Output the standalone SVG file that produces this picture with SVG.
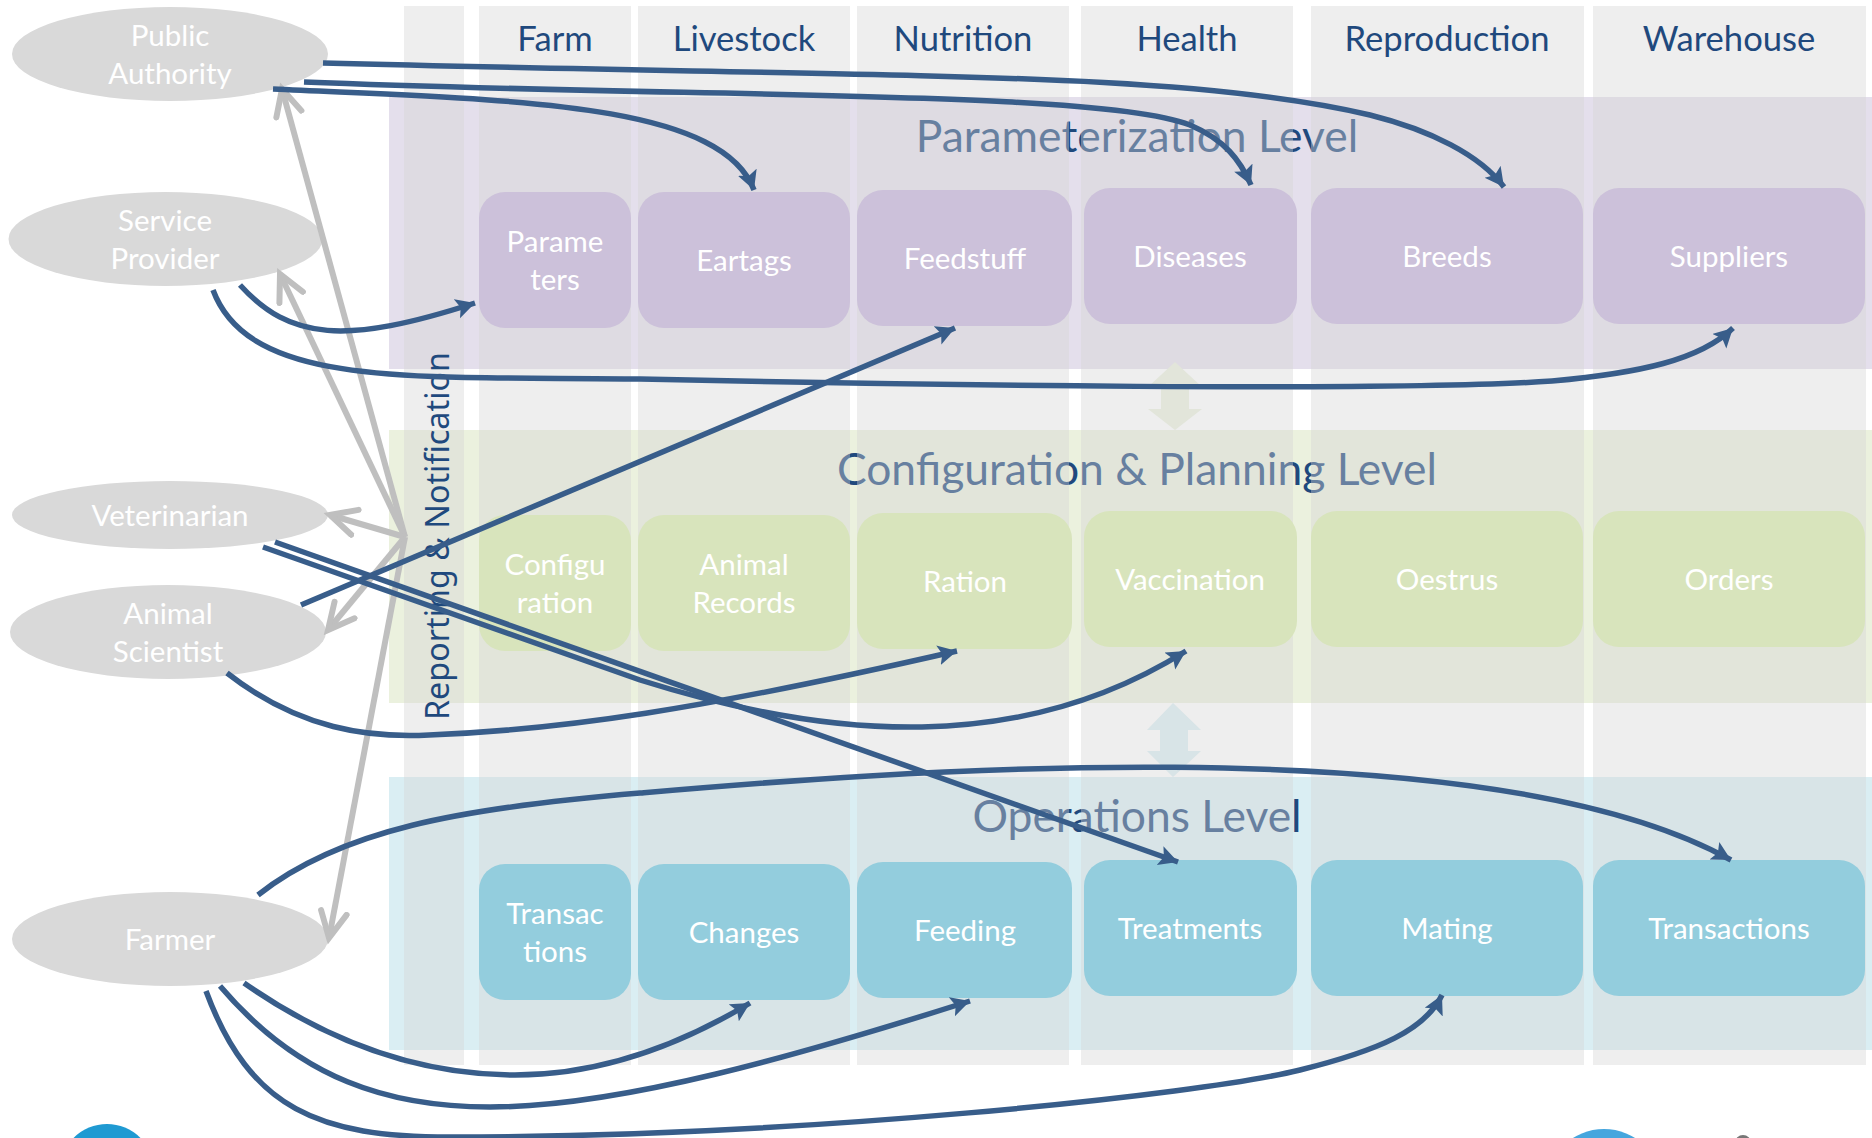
<svg xmlns="http://www.w3.org/2000/svg" width="1872" height="1138" viewBox="0 0 1872 1138">
<style>
text{font-family:"Lato","Liberation Sans",sans-serif;text-anchor:middle}
.col{fill:#d4d4d4;fill-opacity:.4}
.hd{font-size:34.6px;fill:#1f497d}
.lvl{font-size:44.4px;fill:#1f497d}
.n{font-size:29.5px;fill:#fff}
.act{fill:#d9d9d9}
.p{fill:#ccc1da}.g{fill:#d8e4bc}.b{fill:#93cddd}
.c{fill:none;stroke:#385d8a;stroke-width:5.5}
.r{fill:none;stroke:#bfbfbf;stroke-width:6}
</style>
<defs>
<marker id="ah" markerUnits="userSpaceOnUse" markerWidth="26" markerHeight="26" refX="19" refY="10" orient="auto"><path d="M0 0L19 10L0 20L4 10Z" fill="#385d8a"/></marker>
<marker id="oh" markerUnits="userSpaceOnUse" markerWidth="36" markerHeight="36" refX="29" refY="16" orient="auto"><path d="M3 3L29 16L3 29" fill="none" stroke="#bfbfbf" stroke-width="6" stroke-linecap="round"/></marker>
</defs>
<rect width="1872" height="1138" fill="#fff"/>
<g id="bands">
<rect x="389" y="97" width="1483" height="272" fill="#e4dfec"/>
<rect x="389" y="430" width="1483" height="273" fill="#ebf1de"/>
<rect x="389" y="777" width="1483" height="273" fill="#daeef3"/>
<path d="M1175 362L1202 387H1189V409H1202L1175 430L1148 409H1161V387H1148Z" fill="#ebf1de"/>
<path d="M1173 703L1201 730H1188V751H1201L1173 777L1147 751H1160V730H1147Z" fill="#daeef3"/>
<text class="lvl" x="1137" y="152">Parameterization Level</text>
<text class="lvl" x="1137" y="485">Configuration &amp; Planning Level</text>
<text class="lvl" x="1137" y="832">Operations Level</text>
</g>
<g id="columns">
<rect class="col" x="404" y="6" width="60" height="1059"/>
<rect class="col" x="479" y="6" width="152" height="1059"/>
<rect class="col" x="638" y="6" width="212" height="1059"/>
<rect class="col" x="857" y="6" width="212" height="1059"/>
<rect class="col" x="1081" y="6" width="212" height="1059"/>
<rect class="col" x="1311" y="6" width="273" height="1059"/>
<rect class="col" x="1593" y="6" width="273" height="1059"/>
<text class="hd" x="555" y="51">Farm</text>
<text class="hd" x="744" y="51">Livestock</text>
<text class="hd" x="963" y="51">Nutrition</text>
<text class="hd" x="1187" y="51">Health</text>
<text class="hd" x="1447" y="51">Reproduction</text>
<text class="hd" x="1729" y="51">Warehouse</text>
</g>
<g id="node-parameters"><rect class="p" x="479" y="192" width="152" height="136" rx="26"/><text class="n" x="555" y="252">Parame</text><text class="n" x="555" y="290">ters</text></g>
<g id="node-eartags"><rect class="p" x="638" y="192" width="212" height="136" rx="26"/><text class="n" x="744" y="271">Eartags</text></g>
<g id="node-feedstuff"><rect class="p" x="857" y="190" width="215" height="136" rx="26"/><text class="n" x="965" y="269">Feedstuff</text></g>
<g id="node-diseases"><rect class="p" x="1084" y="188" width="213" height="136" rx="26"/><text class="n" x="1190" y="267">Diseases</text></g>
<g id="node-breeds"><rect class="p" x="1311" y="188" width="272" height="136" rx="26"/><text class="n" x="1447" y="267">Breeds</text></g>
<g id="node-suppliers"><rect class="p" x="1593" y="188" width="272" height="136" rx="26"/><text class="n" x="1729" y="267">Suppliers</text></g>
<g id="node-configuration"><rect class="g" x="479" y="515" width="152" height="136" rx="26"/><text class="n" x="555" y="575">Configu</text><text class="n" x="555" y="613">ration</text></g>
<g id="node-records"><rect class="g" x="638" y="515" width="212" height="136" rx="26"/><text class="n" x="744" y="575">Animal</text><text class="n" x="744" y="613">Records</text></g>
<g id="node-ration"><rect class="g" x="857" y="513" width="215" height="136" rx="26"/><text class="n" x="965" y="592">Ration</text></g>
<g id="node-vaccination"><rect class="g" x="1084" y="511" width="213" height="136" rx="26"/><text class="n" x="1190" y="590">Vaccination</text></g>
<g id="node-oestrus"><rect class="g" x="1311" y="511" width="272" height="136" rx="26"/><text class="n" x="1447" y="590">Oestrus</text></g>
<g id="node-orders"><rect class="g" x="1593" y="511" width="272" height="136" rx="26"/><text class="n" x="1729" y="590">Orders</text></g>
<g id="node-transactions-farm"><rect class="b" x="479" y="864" width="152" height="136" rx="26"/><text class="n" x="555" y="924">Transac</text><text class="n" x="555" y="962">tions</text></g>
<g id="node-changes"><rect class="b" x="638" y="864" width="212" height="136" rx="26"/><text class="n" x="744" y="943">Changes</text></g>
<g id="node-feeding"><rect class="b" x="857" y="862" width="215" height="136" rx="26"/><text class="n" x="965" y="941">Feeding</text></g>
<g id="node-treatments"><rect class="b" x="1084" y="860" width="213" height="136" rx="26"/><text class="n" x="1190" y="939">Treatments</text></g>
<g id="node-mating"><rect class="b" x="1311" y="860" width="272" height="136" rx="26"/><text class="n" x="1447" y="939">Mating</text></g>
<g id="node-transactions"><rect class="b" x="1593" y="860" width="272" height="136" rx="26"/><text class="n" x="1729" y="939">Transactions</text></g>
<text id="reporting" transform="translate(449 720) rotate(-90)" x="0" y="0" style="font-family:'Noto Sans',sans-serif;text-anchor:start;font-size:33px;fill:#1f497d" textLength="368" lengthAdjust="spacingAndGlyphs">Reporting &amp; Notification</text>
<g id="node-public"><ellipse class="act" cx="170" cy="54" rx="158" ry="47"/><text class="n" x="170" y="46">Public</text><text class="n" x="170" y="84">Authority</text></g>
<g id="node-service"><ellipse class="act" cx="165.500" cy="239" rx="157" ry="47"/><text class="n" x="165" y="231">Service</text><text class="n" x="165" y="269">Provider</text></g>
<g id="node-vet"><ellipse class="act" cx="170" cy="515" rx="158" ry="34"/><text class="n" x="170" y="526">Veterinarian</text></g>
<g id="node-scientist"><ellipse class="act" cx="168" cy="632" rx="158" ry="47"/><text class="n" x="168" y="624">Animal</text><text class="n" x="168" y="662">Scientist</text></g>
<g id="node-farmer"><ellipse class="act" cx="170" cy="939" rx="158" ry="47"/><text class="n" x="170" y="950">Farmer</text></g>
<g id="connectors">
<path class="r" d="M405 537L282 89" marker-end="url(#oh)"/>
<path class="r" d="M405 537L280 274" marker-end="url(#oh)"/>
<path class="r" d="M405 537L330 515" marker-end="url(#oh)"/>
<path class="r" d="M405 537L328 630" marker-end="url(#oh)"/>
<path class="r" d="M405 537L329 938" marker-end="url(#oh)"/>
<path class="c" d="M323 63C900 78 1180 70 1370 115C1430 130 1480 155 1504 187" marker-end="url(#ah)"/>
<path class="c" d="M304 82C700 98 1100 90 1190 125C1225 140 1240 160 1251 185" marker-end="url(#ah)"/>
<path class="c" d="M273 89C500 100 720 100 754 190" marker-end="url(#ah)"/>
<path class="c" d="M240 285C290 340 345 345 475 303" marker-end="url(#ah)"/>
<path class="c" d="M213 290C250 390 420 376 640 379C900 385 1400 392 1552 381C1640 373 1700 360 1733 328" marker-end="url(#ah)"/>
<path class="c" d="M301 605L955 328" marker-end="url(#ah)"/>
<path class="c" d="M275 542L1178 862" marker-end="url(#ah)"/>
<path class="c" d="M263 547L640 680C830 740 1020 755 1186 651" marker-end="url(#ah)"/>
<path class="c" d="M227 673C300 730 370 738 429 735C560 730 700 710 957 651" marker-end="url(#ah)"/>
<path class="c" d="M258 895C340 830 460 808 640 793C850 775 1480 720 1731 860" marker-end="url(#ah)"/>
<path class="c" d="M244 983C340 1050 430 1075 515 1075C600 1075 680 1045 750 1003" marker-end="url(#ah)"/>
<path class="c" d="M220 986C300 1080 390 1107 490 1107C620 1107 800 1055 970 1001" marker-end="url(#ah)"/>
<path class="c" d="M206 991C250 1110 320 1137 450 1137C800 1137 1200 1095 1300 1070C1380 1050 1425 1030 1442 995" marker-end="url(#ah)"/>
</g>
<g id="logos">
<circle cx="107" cy="1171" r="47" fill="#1f9ad2"/>
<circle cx="1604" cy="1187" r="58" fill="#45a6de"/>
<circle cx="1743" cy="1143" r="8" fill="#777"/>
</g>
</svg>
